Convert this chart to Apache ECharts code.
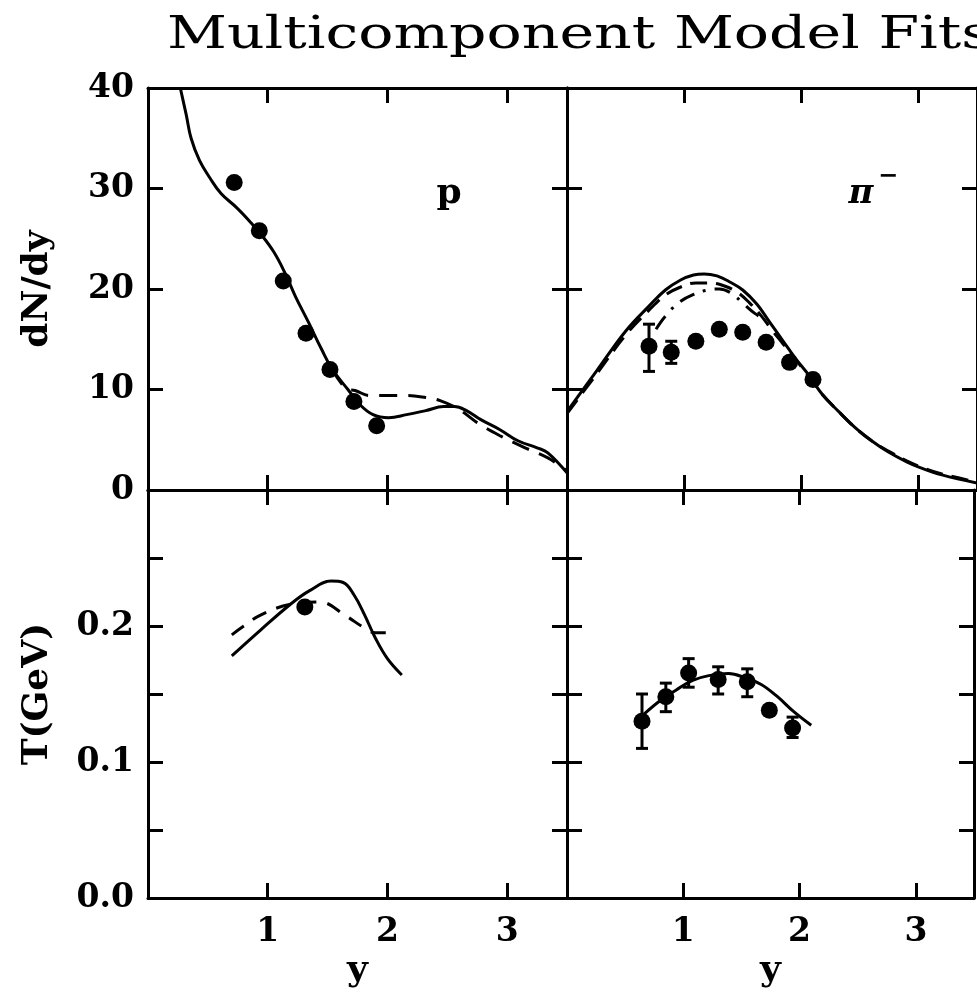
<!DOCTYPE html>
<html>
<head>
<meta charset="utf-8">
<script src="https://cdn.jsdelivr.net/npm/echarts@6/dist/echarts.min.js"></script>
<style>
  html, body { margin: 0; padding: 0; background: #fff; }
  #chart { width: 977px; height: 993px; }
</style>
</head>
<body>
<div id="chart"></div>
<script>
// ---- data ----
// proton dN/dy
const pDots = [[0.72, 30.6], [0.93, 25.8], [1.13, 20.8], [1.32, 15.6], [1.52, 12.0], [1.72, 8.8], [1.91, 6.4]]
const pSolid = [[0.27, 40.0], [0.32, 37.3], [0.36, 35.0], [0.43, 32.8], [0.52, 31.0], [0.61, 29.5], [0.74, 28.1],
  [0.86, 26.6], [0.94, 25.5], [1.05, 23.7], [1.14, 21.7], [1.23, 19.3], [1.34, 16.7], [1.45, 14.0], [1.54, 12.0],
  [1.67, 10.0], [1.77, 8.5], [1.88, 7.5], [2.01, 7.2], [2.16, 7.5], [2.32, 7.9], [2.47, 8.3], [2.56, 8.3],
  [2.66, 7.9], [2.78, 7.0], [2.94, 6.0], [3.09, 4.9], [3.25, 4.2], [3.34, 3.7], [3.5, 1.7]]
const pDash = [[1.54, 12.0], [1.67, 10.0], [1.73, 9.9], [1.85, 9.4], [2.01, 9.4], [2.16, 9.4], [2.32, 9.2],
  [2.44, 8.9], [2.6, 8.0], [2.75, 6.7], [2.94, 5.4], [3.15, 4.2], [3.34, 3.2], [3.5, 1.9]]

// pi- dN/dy
const piDots = [[0.70, 14.3], [0.89, 13.7], [1.10, 14.8], [1.30, 16.0], [1.50, 15.7], [1.70, 14.7], [1.90, 12.7], [2.10, 11.0]]
const piErr = [[0.70, 11.8, 16.5], [0.89, 12.6, 14.8]]
const piSolid = [[0, 7.8], [0.25, 11.8], [0.5, 15.8], [0.7, 18.3], [0.84, 19.9], [0.97, 20.9], [1.08, 21.4],
  [1.17, 21.5], [1.28, 21.3], [1.39, 20.7], [1.5, 19.9], [1.62, 18.5], [1.73, 16.7], [1.84, 14.9], [1.95, 13.1],
  [2.06, 11.5], [2.18, 9.5], [2.32, 7.8], [2.46, 6.2], [2.6, 4.9], [2.74, 3.8], [2.9, 2.8], [3.02, 2.2],
  [3.2, 1.5], [3.5, 0.7]]
const piDash = [[0, 7.6], [0.25, 11.5], [0.5, 15.4], [0.7, 17.9], [0.84, 19.4], [0.97, 20.2], [1.1, 20.6],
  [1.2, 20.6], [1.32, 20.4], [1.45, 19.7], [1.56, 18.6], [1.66, 17.3], [1.75, 15.9], [1.84, 14.6], [1.95, 13.0],
  [2.06, 11.4], [2.18, 9.5], [2.32, 7.8], [2.46, 6.2], [2.6, 4.9], [2.74, 3.9], [2.9, 2.9], [3.02, 2.3],
  [3.2, 1.6], [3.5, 0.8]]
const piDashDot = [[0.76, 16.0], [0.84, 17.3], [0.96, 18.7], [1.09, 19.5], [1.2, 19.9], [1.3, 20.0], [1.4, 19.6],
  [1.5, 18.6], [1.6, 17.6], [1.7, 16.9]]

// proton T
const pTDots = [[1.31, 0.214]]
const pTSolid = [[0.70, 0.178], [0.94, 0.197], [1.19, 0.216], [1.35, 0.226], [1.53, 0.233], [1.63, 0.232],
  [1.72, 0.223], [1.81, 0.208], [1.90, 0.191], [2.0, 0.176], [2.12, 0.164]]
const pTDash = [[0.70, 0.1935], [0.80, 0.200], [0.94, 0.208], [1.19, 0.216], [1.43, 0.2177], [1.66, 0.207],
  [1.80, 0.199], [1.90, 0.195], [2.03, 0.195]]

// pi- T
const piTDots = [[0.645, 0.130], [0.85, 0.148], [1.046, 0.1655], [1.30, 0.1606], [1.55, 0.159], [1.74, 0.138], [1.94, 0.125]]
const piTErr = [[0.645, 0.110, 0.150], [0.85, 0.137, 0.158], [1.046, 0.155, 0.176], [1.30, 0.150, 0.170],
  [1.55, 0.148, 0.1685], [1.94, 0.118, 0.133]]
const piTSolid = [[0.66, 0.135], [0.80, 0.145], [0.94, 0.153], [1.08, 0.160], [1.22, 0.1635], [1.39, 0.165],
  [1.53, 0.162], [1.67, 0.157], [1.81, 0.148], [1.95, 0.137], [2.10, 0.127]]

const xTickLabels = [1, 2, 3]
const dndyTickLabels = [0, 10, 20, 30, 40]
const tTickLabels = [0, 0.1, 0.2]

// ---- chart ----
const FONT = 'DejaVu Serif'
const BLACK = '#000'

function xAxis(grid, pos, labels, name) {
  return {
    type: 'value', gridIndex: grid, position: pos, min: 0, max: 3.5, interval: 1,
    axisLine: { show: true, onZero: false, lineStyle: { color: BLACK, width: 3 } },
    axisTick: { show: true, inside: true, length: 15, lineStyle: { color: BLACK, width: 3 } },
    axisLabel: {
      show: labels, margin: 18, color: BLACK, fontFamily: FONT, fontWeight: 'bold', fontSize: 33,
      showMinLabel: true, showMaxLabel: true,
      formatter: v => xTickLabels.includes(v) ? String(v) : ''
    },
    splitLine: { show: false },
    name: name || '', nameLocation: 'middle', nameGap: 55,
    nameTextStyle: { color: BLACK, fontFamily: FONT, fontWeight: 'bold', fontSize: 36 }
  }
}

function yAxis(grid, pos, top, labels, name) {
  const ax = {
    type: 'value', gridIndex: grid, position: pos,
    axisLine: { show: true, onZero: false, lineStyle: { color: BLACK, width: 3 } },
    axisTick: { show: true, inside: true, length: 15, lineStyle: { color: BLACK, width: 3 } },
    splitLine: { show: false },
    name: name || '', nameLocation: 'middle', nameRotate: 90, nameGap: 92,
    nameTextStyle: { color: BLACK, fontFamily: FONT, fontWeight: 'bold', fontSize: 36 }
  }
  if (top) {
    ax.min = 0; ax.max = 40; ax.interval = 10
    ax.axisLabel = {
      show: labels, margin: 14, color: BLACK, fontFamily: FONT, fontWeight: 'bold', fontSize: 33,
      showMinLabel: true, showMaxLabel: true,
      formatter: v => dndyTickLabels.includes(v) ? String(v) : ''
    }
  } else {
    ax.min = 0; ax.max = 0.3; ax.interval = 0.05
    ax.axisLabel = {
      show: labels, margin: 14, color: BLACK, fontFamily: FONT, fontWeight: 'bold', fontSize: 33,
      showMinLabel: true, showMaxLabel: false,
      formatter: v => tTickLabels.some(t => Math.abs(t - v) < 1e-6) ? v.toFixed(1) : ''
    }
  }
  return ax
}

function line(xi, data, type) {
  return {
    type: 'line', xAxisIndex: xi, yAxisIndex: xi, data: data, smooth: 0.4,
    showSymbol: false, symbol: 'none', silent: true, clip: true,
    lineStyle: { color: BLACK, width: 3, type: type || 'solid' }
  }
}

function dots(xi, data) {
  return {
    type: 'scatter', xAxisIndex: xi, yAxisIndex: xi, data: data, symbol: 'circle', symbolSize: 17,
    itemStyle: { color: BLACK, opacity: 1 }, silent: true, z: 5
  }
}

function errorBars(xi, data) {
  return {
    type: 'custom', xAxisIndex: xi, yAxisIndex: xi, data: data, silent: true, z: 4,
    encode: { x: 0, y: [1, 2] },
    renderItem: (params, api) => {
      const x = api.value(0)
      const a = api.coord([x, api.value(2)])
      const b = api.coord([x, api.value(1)])
      const c = 6
      const st = { stroke: BLACK, lineWidth: 3 }
      return {
        type: 'group', children: [
          { type: 'line', shape: { x1: a[0], y1: a[1], x2: b[0], y2: b[1] }, style: st },
          { type: 'line', shape: { x1: a[0] - c, y1: a[1], x2: a[0] + c, y2: a[1] }, style: st },
          { type: 'line', shape: { x1: b[0] - c, y1: b[1], x2: b[0] + c, y2: b[1] }, style: st }
        ]
      }
    }
  }
}

const chart = echarts.init(document.getElementById('chart'))

const option = {
  backgroundColor: '#fff',
  animation: false,
  grid: [
    { left: 148, top: 88, width: 419, height: 402 },
    { left: 567, top: 88, width: 418, height: 402 },
    { left: 148, top: 490, width: 419, height: 408 },
    { left: 567, top: 490, width: 418, height: 408 }
  ],
  xAxis: [
    xAxis(0, 'bottom', false), xAxis(0, 'top', false),
    xAxis(1, 'bottom', false), xAxis(1, 'top', false),
    xAxis(2, 'bottom', true, 'y'), xAxis(2, 'top', false),
    xAxis(3, 'bottom', true, 'y'), xAxis(3, 'top', false)
  ],
  yAxis: [
    yAxis(0, 'left', true, true, 'dN/dy'), yAxis(0, 'right', true, false),
    yAxis(1, 'left', true, false), yAxis(1, 'right', true, false),
    yAxis(2, 'left', false, true, 'T(GeV)'), yAxis(2, 'right', false, false),
    yAxis(3, 'left', false, false), yAxis(3, 'right', false, false)
  ],
  graphic: [
    {
      type: 'text', x: 167, y: 15, scaleX: 1.33,
      style: { text: 'Multicomponent Model Fits', font: '44px "DejaVu Serif"', fill: BLACK, align: 'left', verticalAlign: 'top' }
    },
    {
      type: 'text', x: 449, y: 194,
      style: { text: 'p', font: 'bold 36px "DejaVu Serif"', fill: BLACK, align: 'center', verticalAlign: 'middle' }
    },
    {
      type: 'text', x: 861, y: 194,
      style: { text: 'π', font: 'italic bold 34px "DejaVu Serif"', fill: BLACK, align: 'center', verticalAlign: 'middle' }
    },
    {
      type: 'text', x: 888, y: 177,
      style: { text: '−', font: 'bold 24px "DejaVu Serif"', fill: BLACK, align: 'center', verticalAlign: 'middle' }
    }
  ],
  series: [
    line(0, pSolid), line(0, pDash, [18, 11]), dots(0, pDots),
    line(2, piSolid), line(2, piDash, [17, 9]), line(2, piDashDot, [16, 9, 3, 9]),
    errorBars(2, piErr), dots(2, piDots),
    line(4, pTSolid), line(4, pTDash, [15, 11]), dots(4, pTDots),
    line(6, piTSolid), errorBars(6, piTErr), dots(6, piTDots)
  ]
}

chart.setOption(option)
</script>
</body>
</html>
